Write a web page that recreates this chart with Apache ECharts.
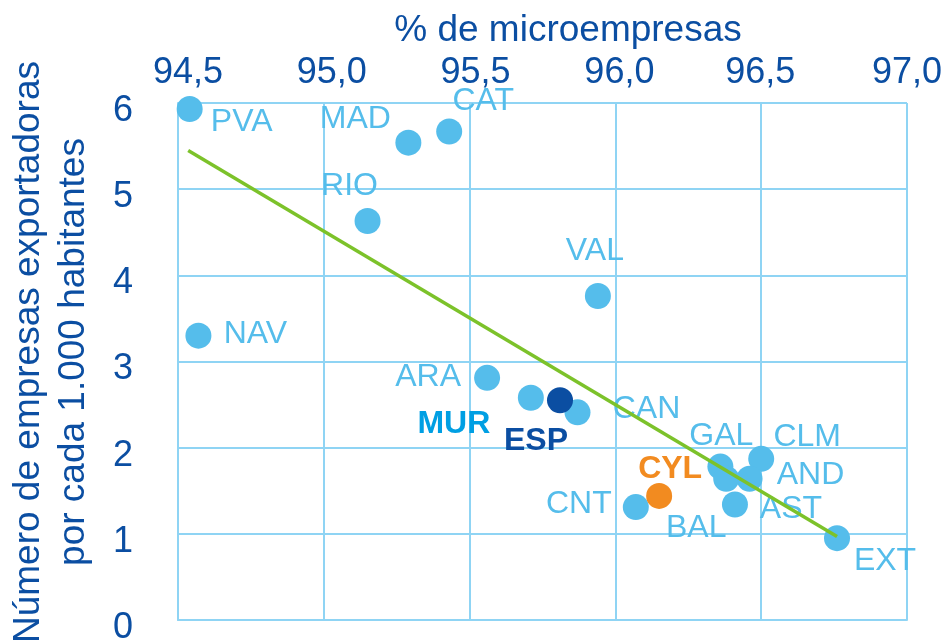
<!DOCTYPE html>
<html>
<head>
<meta charset="utf-8">
<script src="https://cdn.jsdelivr.net/npm/echarts@6/dist/echarts.min.js"></script>
<style>
    html, body { margin: 0; padding: 0; background: #fff; }
    #chart { width: 947px; height: 641px; }
</style>
</head>
<body>
<div id="chart"></div>
<script>
// regiones (azul claro)
const regions   = ['PVA', 'MAD', 'CAT', 'RIO', 'VAL', 'NAV', 'ARA', 'MUR', 'CAN', 'GAL', 'CLM', 'AND', 'BAL', 'AST', 'CNT', 'EXT'];
const microPct  = [94.54, 95.29, 95.43, 95.15, 95.94, 94.57, 95.56, 95.71, 95.87, 96.36, 96.50, 96.46, 96.38, 96.41, 96.07, 96.76];
const exporters = [5.93, 5.54, 5.67, 4.63, 3.76, 3.30, 2.81, 2.58, 2.41, 1.78, 1.87, 1.64, 1.64, 1.34, 1.31, 0.95];

// destacados
const espPoint = [95.81, 2.55];
const cylPoint = [96.15, 1.44];

// linea de tendencia (extremos)
const trendX = [94.535, 96.76];
const trendY = [5.45, 0.97];

const xTicks = [94.5, 95.0, 95.5, 96.0, 96.5, 97.0];
const yTicks = [0, 1, 2, 3, 4, 5, 6];

// posicion de las etiquetas respecto al punto (px)
const labelOffsets = {
    PVA: [52, 10], MAD: [-53, -26], CAT: [34, -33], RIO: [-18, -38], VAL: [-3, -48],
    NAV: [57, -4], ARA: [-59, -4], MUR: [-77, 23], CAN: [69, -6], GAL: [1, -33],
    CLM: [46, -25], AND: [61, -7], BAL: [-30, 46], AST: [56, 2], CNT: [-57, -6],
    EXT: [48, 20], ESP: [-24, 38], CYL: [11, -30]
};
// desplazamiento horizontal de las etiquetas del eje x (px)
const xLabelShift = [10, 8, 6, 4, -1, 0];

const LIGHT = '#55bdeb';
const DARK = '#0b4ea2';
const ORANGE = '#f28b20';
const GRID = '#8fd4f4';
const FONT = 'Liberation Sans, Arial, sans-serif';

function pointLabel(name, color, bold) {
    const o = labelOffsets[name];
    return {
        show: true,
        position: 'inside',
        offset: [o[0], o[1] + 3],
        formatter: name,
        color: color,
        fontSize: 32,
        fontWeight: bold ? 'bold' : 'normal',
        fontFamily: FONT
    };
}

const regionData = regions.map(function (name, i) {
    const item = { name: name, value: [microPct[i], exporters[i]] };
    item.label = name === 'MUR' ? pointLabel(name, '#009fe3', true) : pointLabel(name, LIGHT, false);
    return item;
});

// estilos rich para mover cada etiqueta del eje x
const xRich = {};
xLabelShift.forEach(function (dx, i) {
    xRich['s' + i] = {
        color: DARK,
        fontSize: 36,
        fontFamily: FONT,
        padding: dx >= 0 ? [0, 0, 0, 2 * dx] : [0, -2 * dx, 0, 0]
    };
});

const chart = echarts.init(document.getElementById('chart'));

chart.setOption({
    animation: false,
    backgroundColor: '#fff',
    grid: {
        left: 178, top: 103, right: 40, bottom: 21,
        outerBoundsMode: 'none'
    },
    graphic: [
        {
            type: 'text', x: 568, y: 31,
            style: {
                text: '% de microempresas', fill: DARK,
                font: '37px ' + FONT, textAlign: 'center', textVerticalAlign: 'middle'
            }
        },
        {
            type: 'text', x: 51, y: 352, rotation: Math.PI / 2,
            style: {
                text: 'Número de empresas exportadoras\npor cada 1.000 habitantes', fill: DARK,
                font: '37px ' + FONT, lineHeight: 45, textAlign: 'center', textVerticalAlign: 'middle'
            }
        }
    ],
    xAxis: {
        type: 'value',
        position: 'top',
        min: xTicks[0],
        max: xTicks[xTicks.length - 1],
        interval: 0.5,
        axisLine: { show: true, lineStyle: { color: GRID, width: 2 } },
        axisTick: { show: false },
        splitLine: { show: true, lineStyle: { color: GRID, width: 2 } },
        axisLabel: {
            margin: 12,
            color: DARK,
            fontSize: 36,
            fontFamily: FONT,
            formatter: function (v) {
                const i = Math.round((v - xTicks[0]) / 0.5);
                return '{s' + i + '|' + v.toFixed(1).replace('.', ',') + '}';
            },
            rich: xRich
        }
    },
    yAxis: {
        type: 'value',
        min: yTicks[0],
        max: yTicks[yTicks.length - 1],
        interval: 1,
        axisLine: { show: true, lineStyle: { color: GRID, width: 2 } },
        axisTick: { show: false },
        splitLine: { show: true, lineStyle: { color: GRID, width: 2 } },
        axisLabel: {
            margin: 45,
            color: DARK,
            fontSize: 36,
            fontFamily: FONT,
            verticalAlign: 'top',
            lineHeight: 16
        }
    },
    series: [
        {
            type: 'scatter',
            symbolSize: 26,
            itemStyle: { color: LIGHT, opacity: 1 },
            data: regionData,
            z: 2
        },
        {
            type: 'scatter',
            symbolSize: 26,
            itemStyle: { color: ORANGE, opacity: 1 },
            data: [{ name: 'CYL', value: cylPoint, label: pointLabel('CYL', ORANGE, true) }],
            z: 3
        },
        {
            type: 'scatter',
            symbolSize: 26,
            itemStyle: { color: DARK, opacity: 1 },
            data: [{ name: 'ESP', value: espPoint, label: pointLabel('ESP', DARK, true) }],
            z: 3
        },
        {
            type: 'line',
            symbol: 'none',
            silent: true,
            lineStyle: { color: '#7cc22a', width: 3.5 },
            data: trendX.map(function (x, i) { return [x, trendY[i]]; }),
            z: 4
        }
    ]
});
</script>
</body>
</html>
